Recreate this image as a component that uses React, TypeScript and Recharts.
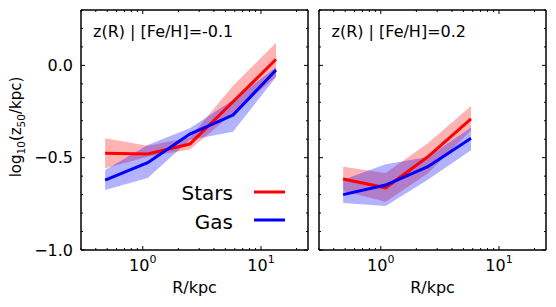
import React from 'react';
import { ComposedChart, Line, Area, XAxis, YAxis } from 'recharts';

// ---------- data ----------
const radiiLeft = [0.48, 1.1, 2.5, 5.8, 13.4];
const starsMedLeft = [-0.476, -0.48, -0.426, -0.197, 0.033];
const starsLoLeft = [-0.557, -0.495, -0.455, -0.26, -0.061];
const starsHiLeft = [-0.395, -0.435, -0.39, -0.11, 0.123];
const gasMedLeft = [-0.621, -0.527, -0.372, -0.269, -0.025];
const gasLoLeft = [-0.675, -0.61, -0.404, -0.359, -0.064];
const gasHiLeft = [-0.567, -0.431, -0.341, -0.187, -0.01];

const radiiRight = [0.48, 1.1, 2.5, 5.8];
const starsMedRight = [-0.615, -0.663, -0.495, -0.29];
const starsLoRight = [-0.68, -0.738, -0.585, -0.351];
const starsHiRight = [-0.549, -0.583, -0.422, -0.22];
const gasMedRight = [-0.7, -0.648, -0.549, -0.395];
const gasLoRight = [-0.745, -0.762, -0.62, -0.46];
const gasHiRight = [-0.62, -0.536, -0.496, -0.337];

const xTicks = [0.3, 0.4, 0.5, 0.6, 0.7, 0.8, 0.9, 1, 2, 3, 4, 5, 6, 7, 8, 9, 10, 20];
const xMajor = [1, 10];
const yTicks = [-1.0, -0.9, -0.8, -0.7, -0.6, -0.5, -0.4, -0.3, -0.2, -0.1, 0.0, 0.1, 0.2, 0.3];
const yMajor = [-1.0, -0.5, 0.0];

const titles = ['z(R) | [Fe/H]=-0.1', 'z(R) | [Fe/H]=0.2'];
const legendLabels = ['Stars', 'Gas'];

const RED = '#ff0000';
const BLUE = '#0000ff';
const FONT = 'DejaVu Sans, sans-serif';

function buildRows(r: number[], sm: number[], sl: number[], sh: number[], gm: number[], gl: number[], gh: number[]) {
  return r.map((v, i) => ({
    r: v,
    stars: sm[i],
    gas: gm[i],
    starsBand: [sl[i], sh[i]],
    gasBand: [gl[i], gh[i]],
  }));
}

const leftRows = buildRows(radiiLeft, starsMedLeft, starsLoLeft, starsHiLeft, gasMedLeft, gasLoLeft, gasHiLeft);
const rightRows = buildRows(radiiRight, starsMedRight, starsLoRight, starsHiRight, gasMedRight, gasLoRight, gasHiRight);

const TOP = 10;
const BOTTOM = 250;
const H = 307;
const W = 556;

const isMajorY = (v: number) => yMajor.some((m) => Math.abs(m - v) < 1e-6);
const fmtY = (v: number) => (v < 0 ? '\u2212' : '') + Math.abs(v).toFixed(1);

function Panel({ rows, left, right, showYLabels }: { rows: any[]; left: number; right: number; showYLabels: boolean }) {
  const bottomTick = (p: any) => {
    const v = p.payload.value;
    const x = p.payload.coordinate ?? p.x;
    const major = xMajor.includes(v);
    return (
      <g>
        <line x1={x} y1={BOTTOM} x2={x} y2={BOTTOM - (major ? 4 : 2)} stroke="#000" strokeWidth={1} />
        {major ? (
          <text x={x} y={271} textAnchor="middle" fontFamily={FONT} fontSize={16} fill="#000">
            10
            <tspan dy={-8} fontSize={11}>{v === 1 ? '0' : '1'}</tspan>
          </text>
        ) : null}
      </g>
    );
  };
  const topTick = (p: any) => {
    const v = p.payload.value;
    const x = p.payload.coordinate ?? p.x;
    const major = xMajor.includes(v);
    return <line x1={x} y1={TOP} x2={x} y2={TOP + (major ? 4 : 2)} stroke="#000" strokeWidth={1} />;
  };
  const leftTick = (p: any) => {
    const v = p.payload.value;
    const y = p.payload.coordinate ?? p.y;
    const major = isMajorY(v);
    return (
      <g>
        <line x1={left} y1={y} x2={left + (major ? 4 : 2)} y2={y} stroke="#000" strokeWidth={1} />
        {major && showYLabels ? (
          <text x={left - 8} y={y + 5.8} textAnchor="end" fontFamily={FONT} fontSize={16} fill="#000">
            {fmtY(v)}
          </text>
        ) : null}
      </g>
    );
  };
  const rightTick = (p: any) => {
    const v = p.payload.value;
    const y = p.payload.coordinate ?? p.y;
    const major = isMajorY(v);
    return <line x1={right} y1={y} x2={right - (major ? 4 : 2)} y2={y} stroke="#000" strokeWidth={1} />;
  };
  const axisLine = { stroke: '#000', strokeWidth: 1.5 };
  return (
    <div style={{ position: 'absolute', left: 0, top: 0 }}>
      <ComposedChart width={W} height={H} data={rows} margin={{ top: 0, right: 0, bottom: 0, left: 0 }}>
        <XAxis xAxisId="b" dataKey="r" type="number" scale="log" domain={[0.3, 25]} allowDataOverflow
          ticks={xTicks} interval={0} tick={bottomTick} tickLine={false} axisLine={axisLine} height={H - BOTTOM} orientation="bottom" />
        <XAxis xAxisId="t" dataKey="r" type="number" scale="log" domain={[0.3, 25]} allowDataOverflow
          ticks={xTicks} interval={0} tick={topTick} tickLine={false} axisLine={axisLine} height={TOP} orientation="top" />
        <YAxis yAxisId="l" type="number" domain={[-1, 0.3]} allowDataOverflow ticks={yTicks} interval={0}
          tick={leftTick} tickLine={false} axisLine={axisLine} width={left} orientation="left" />
        <YAxis yAxisId="r" type="number" domain={[-1, 0.3]} allowDataOverflow ticks={yTicks} interval={0}
          tick={rightTick} tickLine={false} axisLine={axisLine} width={W - right} orientation="right" />
        <Area xAxisId="b" yAxisId="l" dataKey="starsBand" type="linear" stroke="none" fill={RED} fillOpacity={0.3} isAnimationActive={false} />
        <Area xAxisId="b" yAxisId="l" dataKey="gasBand" type="linear" stroke="none" fill={BLUE} fillOpacity={0.3} isAnimationActive={false} />
        <Line xAxisId="b" yAxisId="l" dataKey="stars" type="linear" stroke={RED} strokeWidth={3} dot={false} isAnimationActive={false} />
        <Line xAxisId="b" yAxisId="l" dataKey="gas" type="linear" stroke={BLUE} strokeWidth={3} dot={false} isAnimationActive={false} />
      </ComposedChart>
    </div>
  );
}

export default function App() {
  return (
    <div style={{ position: 'absolute', left: 0, top: 0, width: W, height: H, background: '#fff', overflow: 'hidden' }}>
      <Panel rows={leftRows} left={81} right={308} showYLabels={true} />
      <Panel rows={rightRows} left={319} right={546} showYLabels={false} />
      <svg width={W} height={H} style={{ position: 'absolute', left: 0, top: 0, pointerEvents: 'none' }}>
        <g fontFamily={FONT} fill="#000">
          <text x={93} y={37} fontSize={16}>{titles[0]}</text>
          <text x={331.5} y={37} fontSize={16}>{titles[1]}</text>
          <text x={194.5} y={293} fontSize={16} textAnchor="middle">R/kpc</text>
          <text x={432.5} y={293} fontSize={16} textAnchor="middle">R/kpc</text>
          <text x={21.4} y={127} fontSize={15} textAnchor="middle" transform="rotate(-90 21.4 127)">
            log<tspan fontSize={10.5} dy={4}>10</tspan><tspan dy={-4}>(z</tspan><tspan fontSize={10.5} dy={4}>50</tspan><tspan dy={-4}>/kpc)</tspan>
          </text>
          <text x={233} y={200} fontSize={20} textAnchor="end">{legendLabels[0]}</text>
          <text x={233} y={229} fontSize={20} textAnchor="end">{legendLabels[1]}</text>
        </g>
        <line x1={254} y1={192} x2={285} y2={192} stroke={RED} strokeWidth={3} />
        <line x1={254} y1={220} x2={285} y2={220} stroke={BLUE} strokeWidth={3} />
      </svg>
    </div>
  );
}
